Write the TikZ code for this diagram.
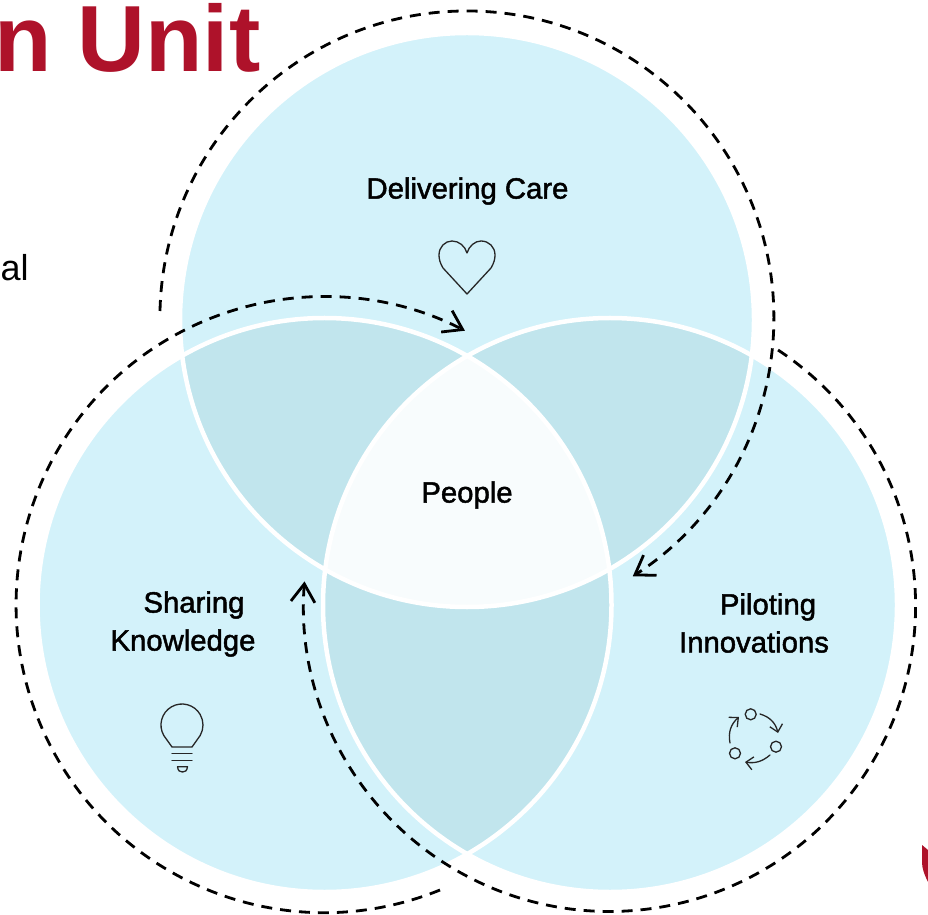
\documentclass[tikz,border=0pt]{standalone}
\usepackage{fontspec}
\setmainfont{Liberation Sans}
\newfontfamily\labelfont[FakeBold=1.6]{Liberation Sans}
\usetikzlibrary{arrows.meta}
\definecolor{ringblue}{RGB}{211,242,250}
\definecolor{lensblue}{RGB}{193,229,237}
\definecolor{corewhite}{RGB}{248,252,253}
\definecolor{titlered}{RGB}{174,18,42}
\begin{document}
\begin{tikzpicture}[
    x=1pt, y=1pt,
    venn/.style={line width=4.5pt, draw=white},
    cycle/.style={-{Straight Barb[length=18pt, width=24pt, line width=2.8pt]}, black, line width=2.8pt, dash pattern=on 11pt off 8pt},
    label/.style={font=\labelfont\fontsize{29.3}{38}\selectfont, align=center, text=black},
    icon/.style={line width=1.3pt, draw=black!85, line join=round, line cap=round},
    arrowicon/.style={icon, -{Straight Barb[length=7pt, width=13pt, line width=1.3pt]}},
    cyclenode/.style={circle, draw=black!85, line width=1.3pt, minimum size=11pt, inner sep=0pt}
]
\useasboundingbox (0,0) rectangle (928,914);

\coordinate (topc) at (467,594);
\coordinate (leftc) at (324.5,309);
\coordinate (rightc) at (610,309);

% circles and overlaps
\fill[ringblue] (topc) circle[radius=287];
\fill[ringblue] (leftc) circle[radius=287];
\fill[ringblue] (rightc) circle[radius=287];
\begin{scope}
    \clip (topc) circle[radius=287];
    \fill[lensblue] (leftc) circle[radius=287];
    \fill[lensblue] (rightc) circle[radius=287];
\end{scope}
\begin{scope}
    \clip (leftc) circle[radius=287];
    \fill[lensblue] (rightc) circle[radius=287];
    \clip (rightc) circle[radius=287];
    \fill[corewhite] (topc) circle[radius=287];
\end{scope}
\draw[venn] (topc) circle[radius=287];
\draw[venn] (leftc) circle[radius=287];
\draw[venn] (rightc) circle[radius=287];

% dashed cycle
\coordinate (topstart) at (160,603);
\coordinate (leftstart) at (440,24);
\coordinate (rightstart) at (778,564);
\draw[cycle] (topstart) arc[start angle=178.7, end angle=-57.3, radius=307];
\draw[cycle] (leftstart) arc[start angle=-67.9, end angle=-297.2, radius=308];
\draw[cycle] (rightstart) arc[start angle=56.6, end angle=-184.5, radius=306];

% labels
\node[label] (care) at (467.5,723) {Delivering Care};
\node[label] (people) at (467,419) {People};
\node[label] (sharing) at (183,290) {\hspace*{22pt}Sharing\\Knowledge};
\node[label] (piloting) at (754,291) {\hspace*{28pt}Piloting\\Innovations};

% clipped page text
\node[anchor=base west, inner sep=0pt, text=titlered, font=\fontsize{94}{94}\selectfont\bfseries] (title) at (-6,842) {n Unit};
\node[anchor=base west, inner sep=0pt, font=\fontsize{36}{36}\selectfont] (body) at (0.5,633) {al};
\fill[titlered] (922,69) -- (928,64) -- (928,32) .. controls (924,40) and (922,46) .. (922,52) -- cycle;

% heart
\draw[icon] (467,620) -- (443,646) .. controls (440,651) and (439,655) .. (439,659)
    .. controls (439,667) and (445,673) .. (452,673) .. controls (459,673) and (465,668) .. (467,661)
    .. controls (469,668) and (475,673) .. (481,673) .. controls (489,673) and (495,667) .. (495,659)
    .. controls (495,655) and (494,651) .. (491,646) -- cycle;

% bulb
\draw[icon] (172,167) -- (163.8,178.5) arc[start angle=-150, end angle=-390, radius=21] -- (192,167) -- cycle;
\draw[icon] (172,160.7) -- (192,160.7);
\draw[icon] (172,153.3) -- (192,153.3);
\draw[icon] (177.5,147.3) -- (187.5,147.3) .. controls (187,143) and (185,142) .. (182.5,142) .. controls (180,142) and (178,143) .. (177.5,147.3);

% arrows in a ring
\node[cyclenode] (ring1) at (750.7,199.7) {};
\node[cyclenode] (ring2) at (776,167.3) {};
\node[cyclenode] (ring3) at (735,160.7) {};
\coordinate (ring1out) at (760,200);
\coordinate (ring2in) at (778,181);
\coordinate (ring2out) at (770,159);
\coordinate (ring3in) at (745,152);
\coordinate (ring3out) at (730,171);
\coordinate (ring1in) at (739,197);
\draw[arrowicon] (ring1out) to[bend left=30] (ring2in);
\draw[arrowicon] (ring2out) to[bend left=25] (ring3in);
\draw[arrowicon] (ring3out) to[bend left=30] (ring1in);

\end{tikzpicture}
\end{document}
